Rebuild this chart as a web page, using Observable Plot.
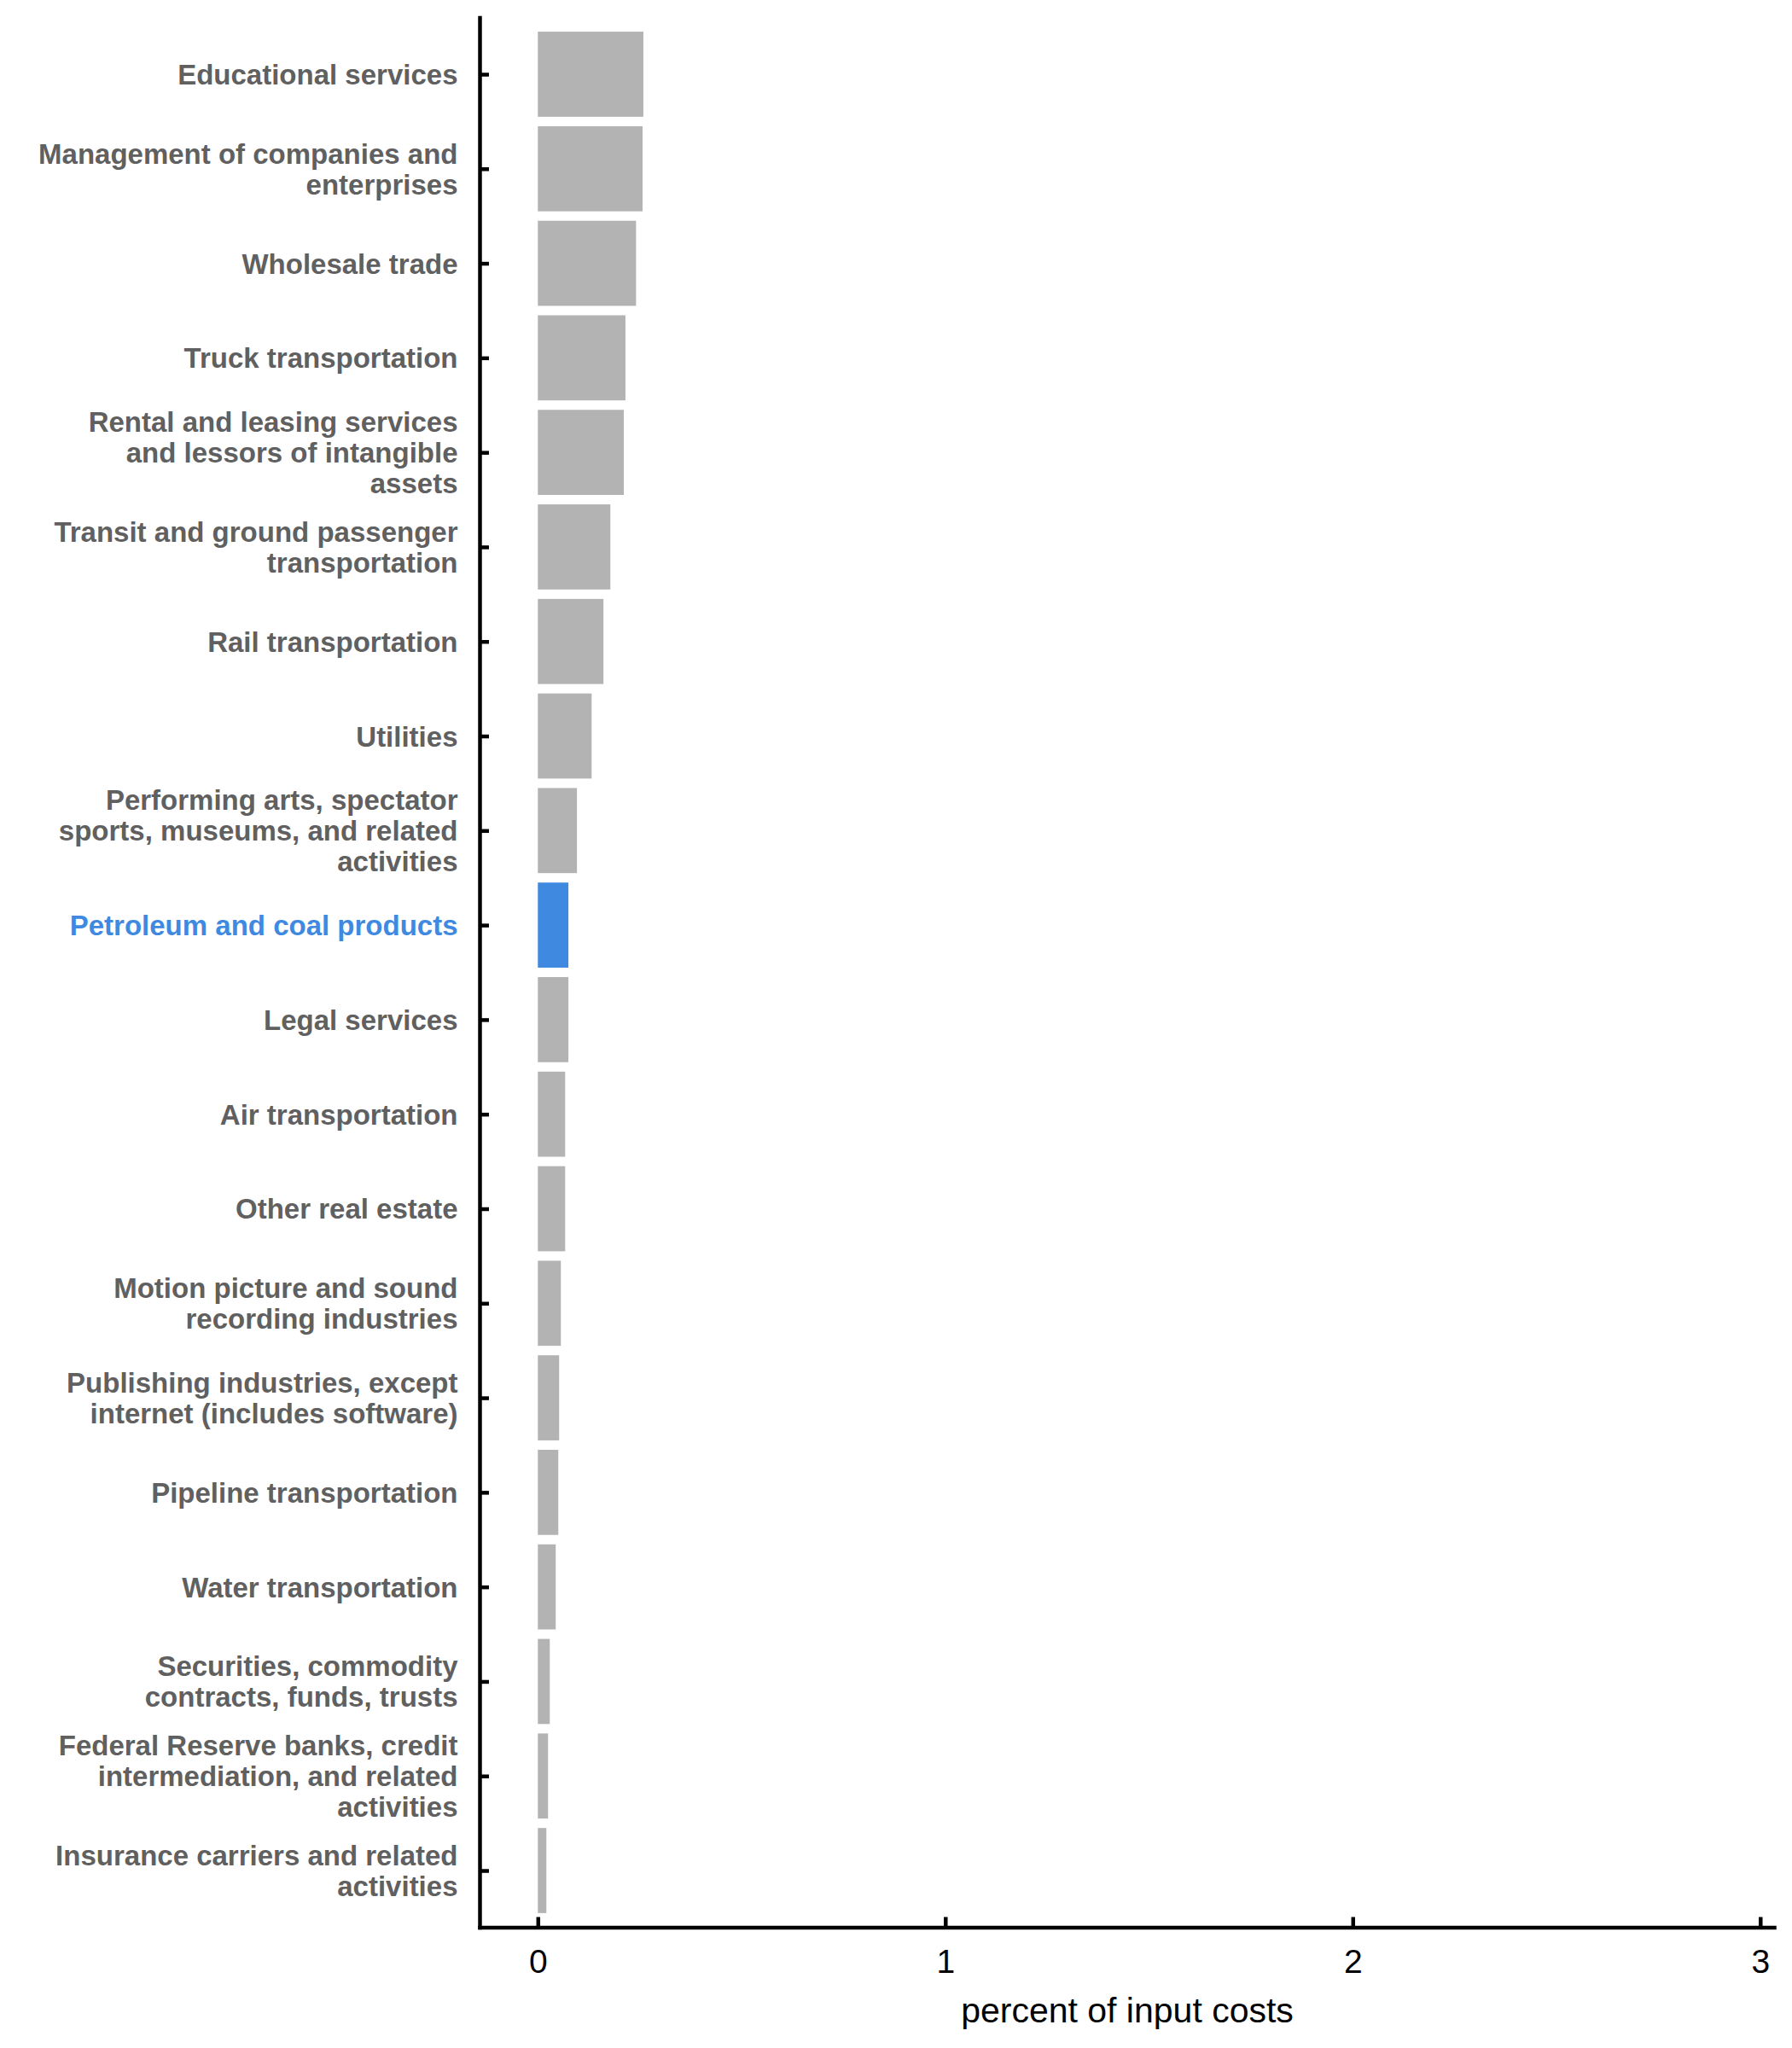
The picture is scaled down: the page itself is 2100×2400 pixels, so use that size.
<!DOCTYPE html>
<html>
<head>
<meta charset="utf-8">
<script src="https://cdn.jsdelivr.net/npm/d3@7"></script>
<script src="https://cdn.jsdelivr.net/npm/@observablehq/plot@0.6"></script>
<style>
  html, body { margin: 0; padding: 0; background: #ffffff; }
  #chart { width: 2100px; height: 2400px; }
</style>
</head>
<body>
<div id="chart"></div>
<script>
const industries = [
  "Educational services",
  "Management of companies and\nenterprises",
  "Wholesale trade",
  "Truck transportation",
  "Rental and leasing services\nand lessors of intangible\nassets",
  "Transit and ground passenger\ntransportation",
  "Rail transportation",
  "Utilities",
  "Performing arts, spectator\nsports, museums, and related\nactivities",
  "Petroleum and coal products",
  "Legal services",
  "Air transportation",
  "Other real estate",
  "Motion picture and sound\nrecording industries",
  "Publishing industries, except\ninternet (includes software)",
  "Pipeline transportation",
  "Water transportation",
  "Securities, commodity\ncontracts, funds, trusts",
  "Federal Reserve banks, credit\nintermediation, and related\nactivities",
  "Insurance carriers and related\nactivities"
];
const shares = [0.259, 0.257, 0.241, 0.215, 0.211, 0.178, 0.161, 0.132, 0.096, 0.075,
                0.075, 0.067, 0.067, 0.0565, 0.0523, 0.0502, 0.0439, 0.0293, 0.0251, 0.0209];
const highlighted = "Petroleum and coal products";
const xTicks = [0, 1, 2, 3];
const xTitle = "percent of input costs";

const rows = industries.map((name, i) => ({name, value: shares[i]}));
const grey = "#b3b3b3", blue = "#3f8ae0";

const chart = Plot.plot({
  width: 2100,
  height: 2400,
  marginLeft: 562,
  marginRight: 21,
  marginTop: 20.5,
  marginBottom: 141.5,
  style: {fontFamily: "'Liberation Sans', Arial, sans-serif", background: "#ffffff"},
  x: {domain: [-0.143, 3.034], ticks: xTicks, tickFormat: d3.format("d")},
  y: {domain: industries, paddingInner: 0.1, paddingOuter: 0.15, round: false},
  marks: [
    Plot.barX(rows, {x: "value", y: "name", fill: d => d.name === highlighted ? blue : grey}),
    Plot.frame({anchor: "left", stroke: "#000", strokeWidth: 4.5}),
    Plot.frame({anchor: "bottom", stroke: "#000", strokeWidth: 4.5}),
    Plot.axisY({text: null, label: null, tickSize: 11, dx: 11, strokeWidth: 4.5, stroke: "#000"}),
    Plot.axisX({text: null, label: null, ticks: xTicks, tickSize: 12, dy: -12, strokeWidth: 4.5, stroke: "#000"}),
    Plot.axisX({ticks: xTicks, tickFormat: d3.format("d"), tickSize: 0, tickPadding: 25.5, label: null, fontSize: 39, fill: "#000"}),
    Plot.text(industries, {
      y: d => d, frameAnchor: "left", textAnchor: "end", dx: -26,
      fontSize: 33, fontWeight: "bold", lineHeight: 1.09,
      fill: d => d === highlighted ? blue : "#606060"
    }),
    Plot.text([xTitle], {frameAnchor: "bottom", lineAnchor: "bottom", dy: 111, fontSize: 41, fill: "#000"})
  ]
});
document.getElementById("chart").appendChild(chart);
</script>
</body>
</html>
